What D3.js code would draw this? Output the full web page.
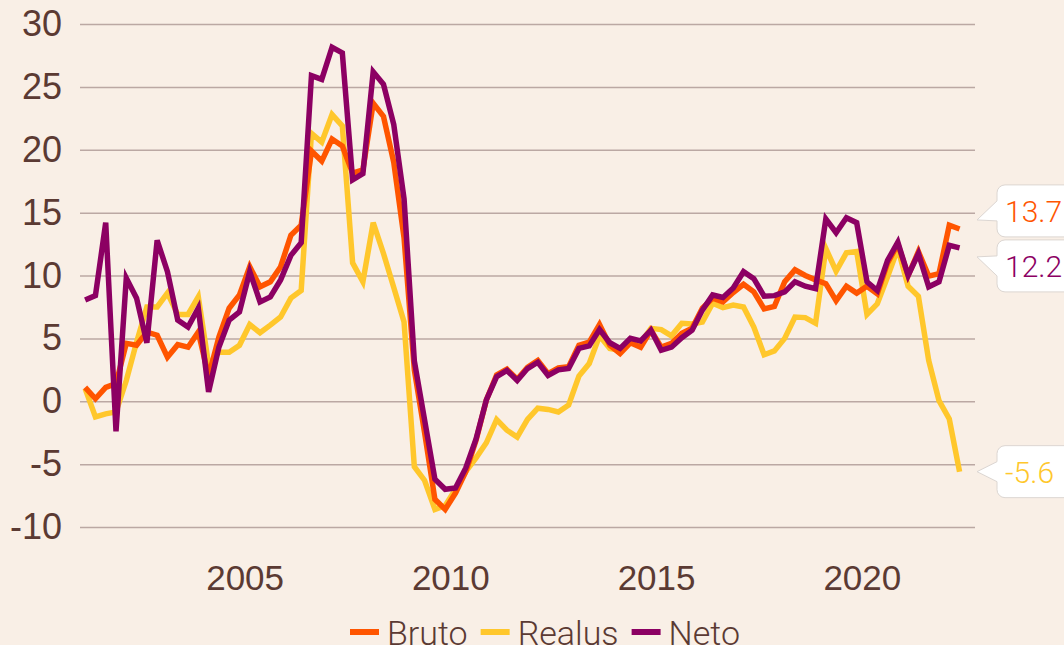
<!DOCTYPE html>
<html>
<head>
<meta charset="utf-8">
<script src="https://cdn.jsdelivr.net/npm/d3@7"></script>
<style>
  html, body { margin: 0; padding: 0; background: #f9efe6; }
  svg { display: block; font-family: "Roboto Light", Roboto, "Noto Sans", sans-serif; }
</style>
</head>
<body>
<div id="chart"></div>
<script>
// Ketvirčiai: 2001 I – 2022 II
var startYear = 2001;
var quarterCount = 86;

var bruto = [1.1, 0.2, 1.1, 1.4, 4.6, 4.45, 5.5, 5.25, 3.5, 4.5, 4.3, 5.5,
  2.0, 5.1, 7.4, 8.45, 10.7, 9.1, 9.5, 10.7, 13.2, 14.0, 19.9, 19.1,
  20.85, 20.3, 18.15, 18.4, 23.7, 22.65, 19.0, 13.0, 2.5, -2.5, -7.8, -8.6,
  -7.3, -5.6, -3.1, 0.1, 2.1, 2.55, 1.75, 2.7, 3.25, 2.2, 2.65, 2.75,
  4.45, 4.7, 6.1, 4.45, 3.8, 4.65, 4.3, 5.65, 4.3, 4.6, 5.4, 5.8,
  7.4, 8.2, 7.9, 8.65, 9.3, 8.7, 7.35, 7.55, 9.5, 10.45, 10.0, 9.65,
  9.35, 8.0, 9.15, 8.6, 9.15, 8.55, 11.0, 12.5, 10.0, 11.9, 9.95, 10.15,
  14.0, 13.7];

var realus = [1.0, -1.25, -1.0, -0.85, 1.65, 4.7, 7.5, 7.5, 8.6, 6.9, 6.9, 8.3,
  2.9, 3.9, 3.9, 4.45, 6.1, 5.45, 6.05, 6.7, 8.2, 8.8, 21.3, 20.6,
  22.8, 21.9, 11.0, 9.5, 14.2, 11.75, 9.05, 6.3, -5.2, -6.3, -8.6, -8.3,
  -7.0, -5.6, -4.5, -3.3, -1.45, -2.3, -2.85, -1.45, -0.55, -0.65, -0.85, -0.3,
  2.0, 3.0, 5.2, 4.2, 4.05, 4.7, 4.65, 5.8, 5.7, 5.2, 6.2, 6.15,
  6.3, 7.8, 7.45, 7.65, 7.5, 5.9, 3.7, 4.0, 5.0, 6.7, 6.65, 6.2,
  12.15, 10.35, 11.8, 11.9, 6.9, 7.75, 9.9, 12.15, 9.15, 8.35, 3.25, 0.05,
  -1.4, -5.6];

var neto = [8.05, 8.4, 14.2, -2.4, 9.8, 8.2, 4.65, 12.8, 10.3, 6.45, 5.9, 7.4,
  0.75, 4.3, 6.45, 7.1, 10.3, 7.9, 8.3, 9.65, 11.6, 12.6, 25.9, 25.6,
  28.15, 27.7, 17.6, 18.1, 26.2, 25.2, 22.0, 16.1, 3.2, -1.5, -6.2, -7.0,
  -6.9, -5.3, -3.0, 0.1, 1.95, 2.45, 1.65, 2.6, 3.1, 2.05, 2.5, 2.6,
  4.2, 4.4, 5.7, 4.65, 4.2, 5.0, 4.8, 5.65, 4.05, 4.3, 5.05, 5.65,
  7.25, 8.45, 8.25, 9.0, 10.3, 9.75, 8.35, 8.4, 8.7, 9.5, 9.15, 8.95,
  14.5, 13.4, 14.6, 14.2, 9.5, 8.8, 11.2, 12.65, 10.0, 11.75, 9.1, 9.5,
  12.4, 12.2];

var lastLabels = ["13.7", "12.2", "-5.6"];
var yTicks = [-10, -5, 0, 5, 10, 15, 20, 25, 30];
var xTicks = [2005, 2010, 2015, 2020];

var series = [
  {name: "Bruto", values: bruto, color: "#ff5500", label: lastLabels[0]},
  {name: "Realus", values: realus, color: "#ffc72c", label: lastLabels[2]},
  {name: "Neto", values: neto, color: "#8c0063", label: lastLabels[1]}
];

// vidurys ketvirčio
var times = d3.range(quarterCount).map(function(i) { return startYear + i * 0.25 + 0.125; });

var width = 1064, height = 645;
var textColor = "#5b3a33";

var svg = d3.select("#chart").append("svg")
  .attr("width", width)
  .attr("height", height);

svg.append("rect").attr("width", width).attr("height", height).attr("fill", "#f9efe6");

var x = d3.scaleLinear().domain([2001, 2022.75]).range([80, 975]);
var y = d3.scaleLinear().domain([-10, 30]).range([527, 24]);

// Y ašis + tinklelis
var yAxis = svg.append("g")
  .attr("transform", "translate(80,0)")
  .call(d3.axisLeft(y).tickValues(yTicks).tickSize(-(975 - 80)).tickPadding(18)
    .tickFormat(function(d) { return String(d); }));
yAxis.select(".domain").remove();
yAxis.selectAll("line").attr("stroke", "#bba8a3").attr("stroke-width", 1.5);
yAxis.selectAll("text")
  .attr("fill", textColor)
  .style("font-size", "36px")
  .style("font-weight", 300);

// X ašis
var xAxis = svg.append("g")
  .attr("transform", "translate(0,527)")
  .call(d3.axisBottom(x).tickValues(xTicks).tickFormat(d3.format("d")).tickSize(0).tickPadding(38));
xAxis.select(".domain").remove();
xAxis.selectAll("text")
  .attr("fill", textColor)
  .style("font-size", "35px")
  .style("font-weight", 300);

// Linijos
var line = d3.line()
  .x(function(d, i) { return x(times[i]); })
  .y(function(d) { return y(d); });

var order = [series[1], series[0], series[2]];
svg.append("g").selectAll("path")
  .data(order)
  .enter().append("path")
    .attr("d", function(s) { return line(s.values); })
    .attr("fill", "none")
    .attr("stroke", function(s) { return s.color; })
    .attr("stroke-width", 5.5);

// Paskutinių reikšmių žymės
var labels = series.map(function(s) {
  var v = s.values[s.values.length - 1];
  return {s: s, vy: y(v), cy: y(v)};
}).sort(function(a, b) { return a.vy - b.vy; });

var minGap = 55;
for (var k = 0; k < 10; k++) {
  for (var j = 1; j < labels.length; j++) {
    var a = labels[j - 1], b = labels[j];
    var overlap = minGap - (b.cy - a.cy);
    if (overlap > 0) { a.cy -= overlap / 2; b.cy += overlap / 2; }
  }
}

var boxX = 997, boxW = 80, boxH = 52, r = 8, tipX = 977;
var lg = svg.append("g").selectAll("g").data(labels).enter().append("g");

lg.append("path")
  .attr("d", function(d) {
    var t = d.cy - boxH / 2, bt = d.cy + boxH / 2, tipY = (d.vy + d.cy) / 2;
    var p = d3.path();
    p.moveTo(boxX + r, t);
    p.lineTo(boxX + boxW - r, t);
    p.arcTo(boxX + boxW, t, boxX + boxW, t + r, r);
    p.lineTo(boxX + boxW, bt - r);
    p.arcTo(boxX + boxW, bt, boxX + boxW - r, bt, r);
    p.lineTo(boxX + r, bt);
    p.arcTo(boxX, bt, boxX, bt - r, r);
    p.lineTo(boxX, d.cy + 10);
    p.lineTo(tipX, tipY);
    p.lineTo(boxX, d.cy - 10);
    p.lineTo(boxX, t + r);
    p.arcTo(boxX, t, boxX + r, t, r);
    p.closePath();
    return p.toString();
  })
  .attr("fill", "#ffffff")
  .attr("stroke", "#dcd6d2")
  .attr("stroke-width", 1);

lg.append("text")
  .attr("x", 1005)
  .attr("y", function(d) { return d.cy + 11; })
  .attr("fill", function(d) { return d.s.color; })
  .style("font-size", "30px")
  .style("font-weight", 300)
  .text(function(d) { return d.s.label; });

// Legenda
var legend = svg.append("g");
var lx = 350;
series.forEach(function(s) {
  legend.append("line")
    .attr("x1", lx).attr("x2", lx + 29)
    .attr("y1", 632).attr("y2", 632)
    .attr("stroke", s.color).attr("stroke-width", 6);
  var t = legend.append("text")
    .attr("x", lx + 37).attr("y", 645)
    .attr("fill", textColor)
    .style("font-size", "34px")
    .style("font-weight", 300)
    .text(s.name);
  lx += 37 + t.node().getComputedTextLength() + 13;
});
</script>
</body>
</html>
